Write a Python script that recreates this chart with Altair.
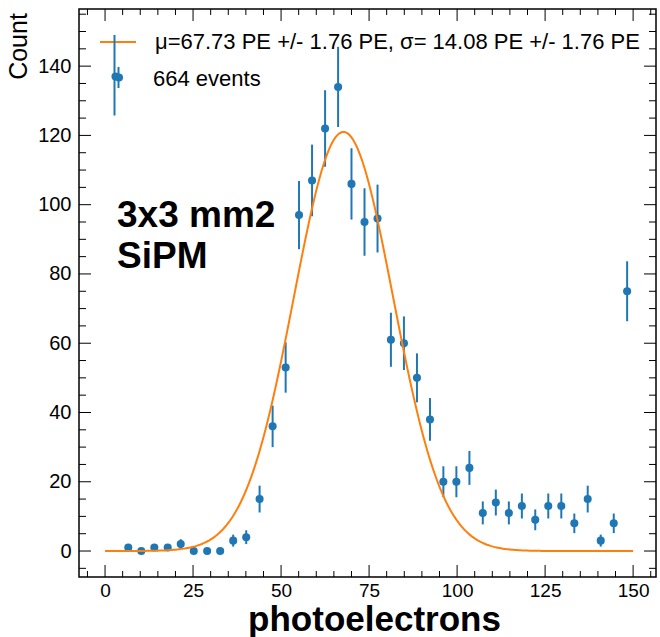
import altair as alt
import pandas as pd

# ---- data ----
pe_bins = [6.6, 10.3, 14.0, 17.8, 21.5, 25.2, 29.0, 32.7, 36.4, 40.1, 43.9, 47.6,
           51.3, 55.1, 58.8, 62.5, 66.2, 70.0, 73.7, 77.4, 81.2, 84.9, 88.6, 92.3,
           96.1, 99.8, 103.5, 107.3, 111.0, 114.7, 118.4, 122.2, 125.9, 129.6,
           133.3, 137.1, 140.8, 144.5, 148.3]
counts = [1, 0, 1, 1, 2, 0, 0, 0, 3, 4, 15, 36, 53, 97, 107, 122, 134, 106, 95, 96,
          61, 60, 50, 38, 20, 20, 24, 11, 14, 11, 13, 9, 13, 13, 8, 15, 3, 8, 75]

# Gaussian fit parameters (from legend) and fitted amplitude
MU = 67.73
SIGMA = 14.08
AMP = 121.0
FIT_START, FIT_END = 0, 150

x_major = [0, 25, 50, 75, 100, 125, 150]
x_minor = [v for v in range(-5, 157, 5) if v % 25 != 0]
y_major = [0, 20, 40, 60, 80, 100, 120, 140]
y_minor = [v for v in range(-5, 157, 5) if v % 20 != 0]

legend_fit = "μ=67.73 PE +/- 1.76 PE, σ= 14.08 PE +/- 1.76 PE"
legend_data = "664 events"
annot = ["3x3 mm2", "SiPM"]

W, H = 577, 568
BLUE = "#1f77b4"
ORANGE = "#ff7f0e"
FONT = "Liberation Sans"

xs = alt.Scale(domain=[-7.4, 156.5], nice=False, zero=False)
ys = alt.Scale(domain=[-7.5, 156.5], nice=False, zero=False)

df = pd.DataFrame({"pe": pe_bins, "count": counts})

x_axis = alt.Axis(values=x_major, ticks=False, domain=False, grid=False,
                  labelFontSize=19, labelPadding=4, labelColor="black", labelFont=FONT,
                  title="photoelectrons", titleFontSize=35, titleFontWeight="bold",
                  titleFont=FONT, titleColor="black", titleX=295, titleY=53,
                  titleAlign="center", titleBaseline="alphabetic")
y_axis = alt.Axis(values=y_major, ticks=False, domain=False, grid=False,
                  labelFontSize=20, labelPadding=8, labelColor="black", labelFont=FONT,
                  title="Count", titleFontSize=25, titleFontWeight="normal",
                  titleFont=FONT, titleColor="black", titleAngle=270, titleX=-61,
                  titleY=37, titleAlign="center", titleBaseline="middle")

points = alt.Chart(df).mark_circle(size=65, color=BLUE, opacity=1).encode(
    x=alt.X("pe:Q", scale=xs, axis=x_axis),
    y=alt.Y("count:Q", scale=ys, axis=y_axis),
)

errbars = alt.Chart(df).transform_filter("datum.count > 0").transform_calculate(
    lo="datum.count - sqrt(datum.count)", hi="datum.count + sqrt(datum.count)"
).mark_rule(color=BLUE, strokeWidth=2).encode(
    x=alt.X("pe:Q", scale=xs, axis=x_axis),
    y=alt.Y("lo:Q", scale=ys, axis=y_axis),
    y2="hi:Q",
)

fit = alt.Chart(alt.sequence(FIT_START, FIT_END + 0.01, 0.5, as_="x")).transform_calculate(
    y=f"{AMP} * exp(-pow(datum.x - {MU}, 2) / (2 * {SIGMA} * {SIGMA}))"
).mark_line(color=ORANGE, strokeWidth=2, clip=True).encode(
    x=alt.X("x:Q", scale=xs, axis=x_axis),
    y=alt.Y("y:Q", scale=ys, axis=y_axis),
)


def xticks(vals, y0, y1):
    return alt.Chart(pd.DataFrame({"t": vals})).mark_rule(color="black", strokeWidth=1).encode(
        x=alt.X("t:Q", scale=xs, axis=x_axis), y=alt.value(y0), y2=alt.value(y1))


def yticks(vals, x0, x1):
    return alt.Chart(pd.DataFrame({"t": vals})).mark_rule(color="black", strokeWidth=1).encode(
        y=alt.Y("t:Q", scale=ys, axis=y_axis), x=alt.value(x0), x2=alt.value(x1))


ticks = [
    xticks(x_major, H, H - 12), xticks(x_minor, H, H - 6),
    xticks(x_major, 0, 12), xticks(x_minor, 0, 6),
    yticks(y_major, 0, 12), yticks(y_minor, 0, 7),
    yticks(y_major, W, W - 12), yticks(y_minor, W, W - 7),
]

# legend drawn in pixel space inside the plot
one = pd.DataFrame({"a": [0]})
leg_line = alt.Chart(one).mark_rule(color=ORANGE, strokeWidth=2).encode(
    x=alt.value(21), x2=alt.value(57), y=alt.value(33))
leg_bar = alt.Chart(one).mark_rule(color=BLUE, strokeWidth=2).encode(
    x=alt.value(35.5), y=alt.value(26), y2=alt.value(106.5))
leg_bar2 = alt.Chart(one).mark_rule(color=BLUE, strokeWidth=2).encode(
    x=alt.value(39.5), y=alt.value(58), y2=alt.value(79))
leg_dot1 = alt.Chart(one).mark_circle(size=65, color=BLUE, opacity=1).encode(
    x=alt.value(36.5), y=alt.value(67.5))
leg_dot2 = alt.Chart(one).mark_circle(size=65, color=BLUE, opacity=1).encode(
    x=alt.value(40), y=alt.value(68.5))
leg_t1 = alt.Chart(one).mark_text(text=legend_fit, align="left", baseline="middle",
                                  fontSize=22, font=FONT, color="black").encode(
    x=alt.value(76), y=alt.value(33))
leg_t2 = alt.Chart(one).mark_text(text=legend_data, align="left", baseline="middle",
                                  fontSize=22, font=FONT, color="black").encode(
    x=alt.value(74), y=alt.value(70))

ann1 = alt.Chart(one).mark_text(text=annot[0], align="left", baseline="alphabetic",
                                fontSize=37, fontWeight="bold", font=FONT, color="black").encode(
    x=alt.value(38), y=alt.value(217.5))
ann2 = alt.Chart(one).mark_text(text=annot[1], align="left", baseline="alphabetic",
                                fontSize=37, fontWeight="bold", font=FONT, color="black").encode(
    x=alt.value(38), y=alt.value(259))

chart = alt.layer(
    points, errbars, fit, *ticks,
    leg_line, leg_bar, leg_bar2, leg_dot1, leg_dot2, leg_t1, leg_t2, ann1, ann2,
).properties(
    width=W, height=H,
    background="white",
    autosize=alt.AutoSizeParams(type="none"),
    padding={"left": 79, "top": 9, "right": 4, "bottom": 60},
).configure_view(
    stroke="black", strokeWidth=1.5
)

chart.save("out.html", embed_options={"renderer": "svg", "actions": False})
